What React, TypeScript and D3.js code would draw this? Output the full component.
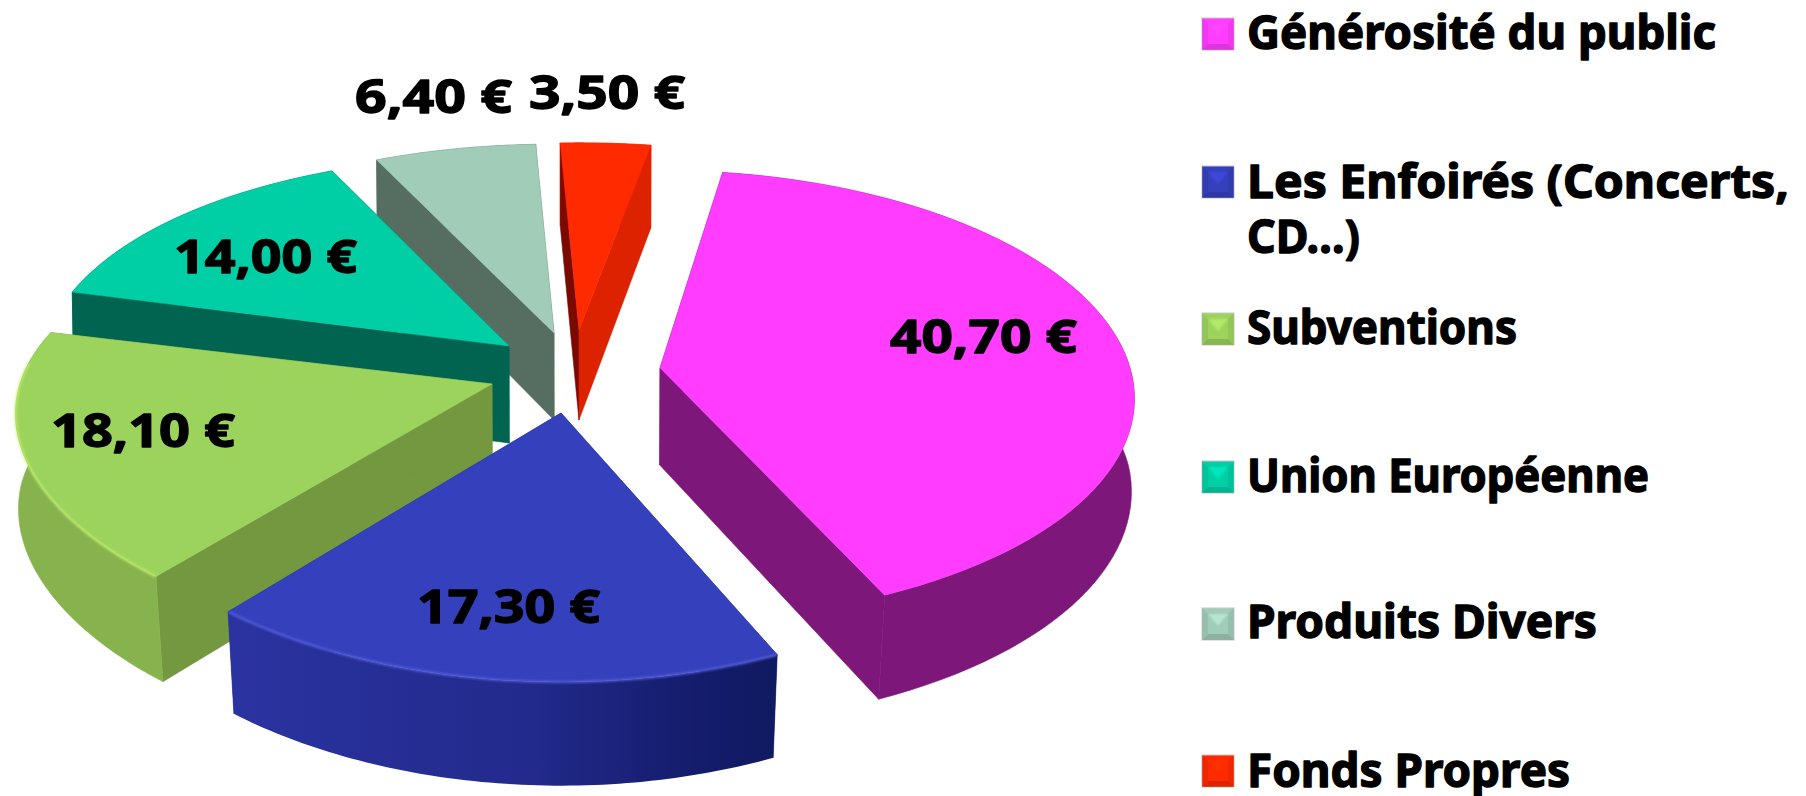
import React from "react";
import * as d3 from "d3";

const categories = ["Générosité du public", "Les Enfoirés (Concerts, CD…)", "Subventions", "Union Européenne", "Produits Divers", "Fonds Propres"];
const values = [40.7, 17.3, 18.1, 14.0, 6.4, 3.5];
const valueLabels = ["40,70 €", "17,30 €", "18,10 €", "14,00 €", "6,40 €", "3,50 €"];

const topColors = ["#ff3cff", "#3540bc", "#9cd35c", "#00cfa6", "#a0ccb8", "#ff2a00"];
const outerColors = ["#7e177a", "#262f98", "#86b34d", "#006450", "#566e62", "#dd2200"];
const startWall = ["#7e177a", "#262f98", "#73983f", "#006450", "#566e62", "#7a0a00"];
const endWall = ["#7e177a", "#262f98", "#73983f", "#006450", "#566e62", "#dd2200"];
const rimColors = ["", "#5a66e0", "#c4f070", "", "", ""];

// Geometry of the exploded 3-D pie
const centre = [570, 345];
const explodeX = [90, -9, -78, -61, -16, 9];
const explodeY = [23, 68, 39, 1, -12, -15];
const radiusX = [470, 475, 472, 466, 460, 470];
const radiusY = [222, 216, 212, 228, 226, 224];
const perspY = [0.124, 0.197, 0.197, 0.197, 0.197, 0.197];
const perspX = 0.136;
const depth = [97, 96, 99, 97, 87, 90];
const angleShiftDeg = [-1.3, 0, 0.8, 0.4, 0, 0];
const paintOrder = [5, 4, 3, 2, 0, 1];

const labelBoxes = [
  { x0: 890, x1: 1077, y: 353 },
  { x0: 417, x1: 600, y: 623 },
  { x0: 51, x1: 235, y: 447 },
  { x0: 174, x1: 357, y: 273 },
  { x0: 355, x1: 512, y: 113 },
  { x0: 529, x1: 685, y: 109 },
];

const legendRows = [
  { lines: ["Générosité du public"], x1: [1716], base: [49], sw: 18 },
  { lines: ["Les Enfoirés (Concerts,", "CD…)"], x1: [1789, 1360], base: [198, 253], sw: 166 },
  { lines: ["Subventions"], x1: [1517], base: [344], sw: 313 },
  { lines: ["Union Européenne"], x1: [1649], base: [492], sw: 461 },
  { lines: ["Produits Divers"], x1: [1597], base: [638], sw: 608 },
  { lines: ["Fonds Propres"], x1: [1570], base: [787], sw: 755 },
];

const FONT = "'Noto Sans', 'Open Sans', sans-serif";
const degToRad = d3.scaleLinear().domain([0, 180]).range([0, Math.PI]);
const pieAngles = d3.pie<number>().sort(null).startAngle(degToRad(10)).endAngle(degToRad(370))(values);

type P = [number, number];
const path = d3.line<P>();
const closed = (pts: P[]) => path(pts) + "Z";

function project(i: number, a: number, r: number, z: number): P {
  const apexX = centre[0] + explodeX[i];
  const apexY = centre[1] + explodeY[i];
  const X = Math.sin(a) * r;
  const Y = -Math.cos(a) * r;
  const fx = 1 / (1 - perspX * Y);
  const fy = 1 / (1 - perspY[i] * Y);
  const px = apexX + radiusX[i] * X * fx;
  const py = apexY + radiusY[i] * Y * fy;
  const h = depth[i] * (1 + 0.08 * Y) * z;
  const conv = 0.003 + 0.018 * Math.max(Y, 0);
  return [px + (centre[0] - px) * conv * z, py + h];
}

function arcAngles(s: number, e: number) {
  return d3.range(0, 73).map((k) => s + ((e - s) * k) / 72);
}

function Slice({ i }: { i: number }) {
  const d = pieAngles[i];
  const shift = degToRad(angleShiftDeg[i]);
  const angles = arcAngles(d.startAngle + shift, d.endAngle + shift);
  const topArc = angles.map((a) => project(i, a, 1, 0));
  const botArc = angles.map((a) => project(i, a, 1, 1));
  const apexT = project(i, 0, 0, 0);
  const apexB = project(i, 0, 0, 1);
  const startW = closed([apexT, topArc[0], botArc[0], apexB]);
  const endW = closed([apexT, topArc[72], botArc[72], apexB]);
  const outer = closed([...topArc, ...[...botArc].reverse()]);
  const top = closed([apexT, ...topArc]);
  const nearArc = angles.filter((a) => Math.cos(a) < 0.1).map((a) => project(i, a, 1, 0));
  const outerFill = i === 1 ? "url(#blueWall)" : outerColors[i];
  const outerIsBack = Math.cos((d.startAngle + d.endAngle) / 2) > 0.5;
  const outerPath = <path d={outer} fill={outerFill} stroke={i === 1 ? "none" : outerFill} strokeWidth={0.6} />;
  return (
    <g>
      {outerIsBack && outerPath}
      <path d={startW} fill={startWall[i]} stroke={startWall[i]} strokeWidth={0.6} />
      <path d={endW} fill={endWall[i]} stroke={endWall[i]} strokeWidth={0.6} />
      {!outerIsBack && outerPath}
      <path d={top} fill={topColors[i]} stroke={topColors[i]} strokeWidth={0.5} />
      {rimColors[i] && nearArc.length > 1 && (
        <path d={path(nearArc) as string} fill="none" stroke={rimColors[i]} strokeWidth={2.5} opacity={0.75} filter="url(#soft)" />
      )}
    </g>
  );
}

function Swatch({ i, y }: { i: number; y: number }) {
  const x0 = 1202, x1 = 1234, y1 = y + 32, b = 6;
  const c = d3.color(topColors[i]) as d3.RGBColor;
  const lighter = c.brighter(0.7).formatHex();
  const darker = c.darker(0.7).formatHex();
  const side = c.darker(0.3).formatHex();
  return (
    <g>
      <rect x={x0} y={y} width={x1 - x0} height={y1 - y} fill={topColors[i]} stroke="#c8c8c8" strokeWidth={1} />
      <path d={closed([[x0, y1], [x1, y1], [x1 - b, y1 - b], [x0 + b, y1 - b]])} fill={darker} opacity={0.6} />
      <path d={closed([[x0, y], [x0 + b, y + b], [x0 + b, y1 - b], [x0, y1]])} fill={side} opacity={0.6} />
      <path d={closed([[x1, y], [x1 - b, y + b], [x1 - b, y1 - b], [x1, y1]])} fill={side} opacity={0.6} />
      <path d={closed([[x0 + b, y + b], [x1 - b, y + b], [(x0 + x1) / 2, y + 18]])} fill={lighter} opacity={0.5} filter="url(#soft)" />
    </g>
  );
}

function BoldText({ x0, x1, y, children }: { x0: number; x1: number; y: number; children: string }) {
  return (
    <text
      x={x0}
      y={y}
      textLength={x1 - x0}
      lengthAdjust="spacingAndGlyphs"
      fontFamily={FONT}
      fontWeight={700}
      fontSize={46}
      fill="#000"
      stroke="#000"
      strokeWidth={1.4}
      strokeLinejoin="round"
    >
      {children}
    </text>
  );
}

export default function App() {
  return (
    <svg width={1806} height={796} style={{ position: "absolute", left: 0, top: 0, background: "#fff" }}>
      <defs>
        <linearGradient id="blueWall" gradientUnits="userSpaceOnUse" x1={230} x2={776} y1={0} y2={0}>
          <stop offset="0" stopColor="#2a33a0" />
          <stop offset="0.55" stopColor="#222a8c" />
          <stop offset="0.85" stopColor="#141c6c" />
          <stop offset="1" stopColor="#101a60" />
        </linearGradient>
        <filter id="soft" x="-5%" y="-5%" width="110%" height="110%">
          <feGaussianBlur stdDeviation="0.8" />
        </filter>
      </defs>
      {paintOrder.map((i) => (
        <Slice key={categories[i]} i={i} />
      ))}
      {valueLabels.map((t, i) => (
        <BoldText key={t} x0={labelBoxes[i].x0} x1={labelBoxes[i].x1} y={labelBoxes[i].y}>
          {t}
        </BoldText>
      ))}
      {legendRows.map((row, i) => (
        <g key={categories[i]}>
          <Swatch i={i} y={row.sw} />
          {row.lines.map((ln, j) => (
            <BoldText key={ln} x0={1247} x1={row.x1[j]} y={row.base[j]}>
              {ln}
            </BoldText>
          ))}
        </g>
      ))}
    </svg>
  );
}
